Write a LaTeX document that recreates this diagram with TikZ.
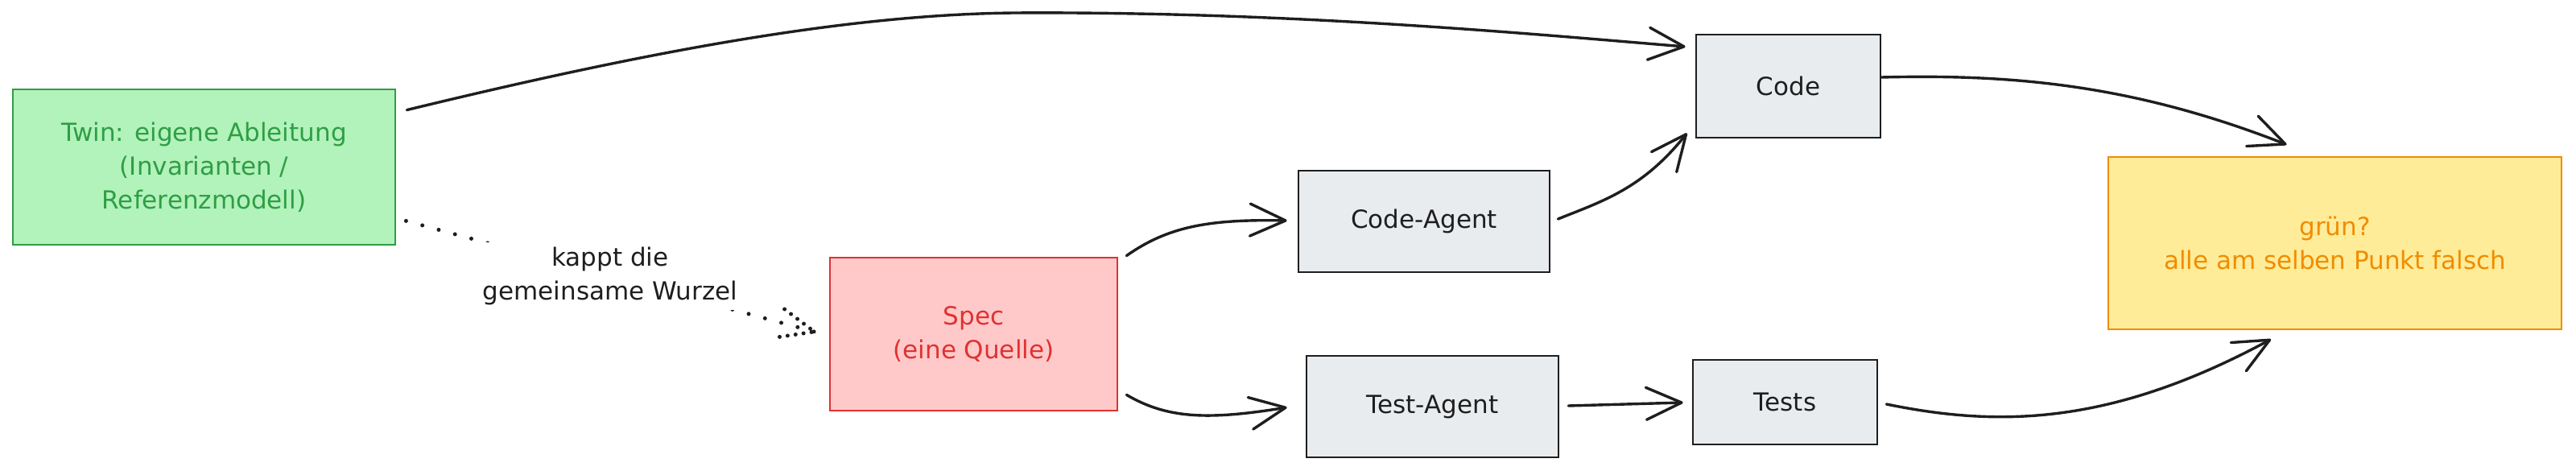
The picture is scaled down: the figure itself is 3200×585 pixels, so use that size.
\documentclass[tikz,border=0pt]{standalone}
\usepackage{fontspec}
\setmainfont{DejaVu Sans}
\usetikzlibrary{arrows.meta,calc}
\definecolor{ink}{HTML}{1E1E1E}
\definecolor{gfill}{HTML}{B2F2BB}
\definecolor{gline}{HTML}{2F9E44}
\definecolor{rfill}{HTML}{FFC9C9}
\definecolor{rline}{HTML}{E03131}
\definecolor{nfill}{HTML}{E9ECEF}
\definecolor{yfill}{HTML}{FFEC99}
\definecolor{yline}{HTML}{F08C00}
\begin{document}
\begin{tikzpicture}[x=1pt,y=-1pt,
  every node/.style={font=\fontsize{31}{42}\selectfont, inner sep=0pt, align=center},
  box/.style={draw=ink, fill=nfill, line width=2.8pt, text=ink, rectangle},
  greenbox/.style={box, draw=gline, fill=gfill, text=gline},
  redbox/.style={box, draw=rline, fill=rfill, text=rline},
  yellowbox/.style={box, draw=yline, fill=yfill, text=yline},
  conn/.style={draw=ink, line width=3.4pt, line cap=round, line join=round,
    -{Straight Barb[length=44pt,width=40pt,round]}},
  dotline/.style={draw=ink, line width=5pt, line cap=round, dash pattern=on 0pt off 21pt},
  dothead/.style={draw=ink, line width=5pt, line cap=round, dash pattern=on 0pt off 10pt}
]
\useasboundingbox (0,0) rectangle (3200,585);

\node[greenbox, minimum width=475pt, minimum height=193pt] (twin) at (253.5,207.5)
  {Twin: eigene Ableitung\\(Invarianten /\\Referenzmodell)};
\node[redbox, minimum width=357pt, minimum height=190pt] (spec) at (1209.5,415)
  {Spec\\(eine Quelle)};
\node[box, minimum width=312pt, minimum height=126pt] (codeagent) at (1769,275) {Code-Agent};
\node[box, minimum width=313pt, minimum height=126pt] (testagent) at (1779.5,505) {Test-Agent};
\node[box, minimum width=229pt, minimum height=128pt] (code) at (2221.5,107) {Code};
\node[box, minimum width=229pt, minimum height=105pt] (tests) at (2217.5,499.5) {Tests};
\node[yellowbox, minimum width=563pt, minimum height=214pt] (result) at (2900.5,302)
  {grün?\\alle am selben Punkt falsch};

% dotted connector with label
\coordinate (dtip) at ($(spec.west)+(-18,-3)$);
\draw[dotline] ($(twin.south east)+(12,-31)$) -- node[fill=white, inner sep=6pt, text=ink] (lbl)
  {kappt die\\gemeinsame Wurzel} (dtip);
\draw[dothead] ($(dtip)+(-37,-28)$) -- (dtip) -- ($(dtip)+(-47,7)$);

% twin -> code
\draw[conn] ($(twin.north east)+(13,27)$) .. controls (800,65) and (1050,18) .. (1260,16)
  .. controls (1600,14) and (1900,42) .. ($(code.west)+(-12,-49)$);

% spec -> agents
\draw[conn] ($(spec.north east)+(10,-1)$) .. controls (1450,282) and (1500,272) .. ($(codeagent.west)+(-13,-1)$);
\draw[conn] ($(spec.south east)+(10,-21)$) .. controls (1450,520) and (1500,522) .. ($(testagent.west)+(-23,1)$);

% agents -> artefacts
\draw[conn] ($(codeagent.east)+(9,-3)$) .. controls (1990,250) and (2040,235) .. ($(code.south west)+(-10,-7)$);
\draw[conn] ($(testagent.east)+(11,-1)$) -- ($(tests.west)+(-11,0.5)$);

% artefacts -> result
\draw[conn] ($(code.east)+(0,-11)$) .. controls (2500,92) and (2650,105) .. ($(result.north)+(-60,-14)$);
\draw[conn] ($(tests.east)+(10,2.5)$) .. controls (2480,530) and (2620,530) .. ($(result.south)+(-79.5,11)$);
\end{tikzpicture}
\end{document}
